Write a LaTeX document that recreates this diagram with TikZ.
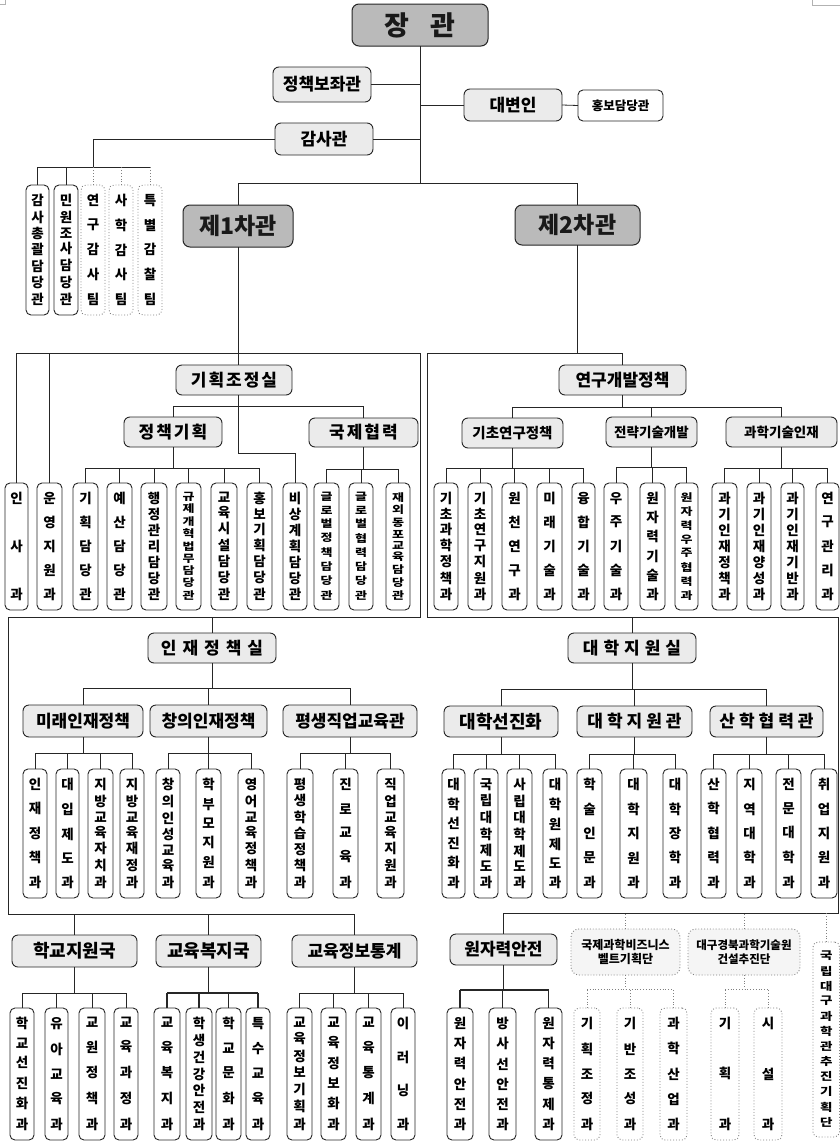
\documentclass[tikz,border=0pt]{standalone}
\usepackage{fontspec}
\setmainfont{Noto Sans CJK KR}
\usepackage{graphicx}
\newcommand\chfmt[1]{#1}
\newcommand\squish[1]{\scalebox{1}[0.8]{#1}}
\newcommand\vtxt[2]{\raisebox{1.5pt}{\vbox to #1{\offinterlineskip\foreach \c [count=\i] in {#2}{\ifnum\i>1 \vfill\fi\hbox to 0pt{\hss\chfmt{\c}\hss}}}}}
\newcommand\mybox[7]{%
  \pgfmathsetmacro\cx{(#2+#4)/2}\pgfmathsetmacro\cy{(#3+#5)/2}%
  \pgfmathsetmacro\bw{#4-#2}\pgfmathsetmacro\bh{#5-#3}%
  \node[#6,minimum width=\bw pt,minimum height=\bh pt] (#1) at (\cx,\cy) {#7};}
\newcommand\myleaf[7]{%
  \pgfmathsetmacro\vh{#5-#3-20}%
  \mybox{#1}{#2}{#3}{#4}{#5}{#6}{\vtxt{\vh pt}{#7}}}
\newcommand\mybus[4][ln]{%
  \coordinate (busy) at (0,#3);
  \draw[#1] (#2.south) -- (#2.south |- busy);
  \foreach \c [count=\i] in {#4}{%
    \draw[#1] (\c.north) -- (\c.north |- busy);
    \ifnum\i=1 \xdef\busfirst{\c}\fi
    \xdef\buslast{\c}}%
  \draw[#1] (\busfirst.north |- busy) -- (\buslast.north |- busy);}
\tikzset{
 ln/.style={line width=0.8pt, draw=black!85},
 dln/.style={line width=0.8pt, draw=black!50, dotted},
 topb/.style={draw=black!85, line width=1pt, rounded corners=7pt, fill=black!27, inner sep=0pt, outer sep=0pt, text=black!90, font=\bfseries\fontsize{23}{23}\selectfont},
 midb/.style={draw=black!85, line width=0.9pt, rounded corners=6pt, fill=black!8, inner sep=0pt, outer sep=0pt, font=\bfseries\fontsize{17}{17}\selectfont},
 leafb/.style={draw=black!85, line width=0.9pt, rounded corners=5pt, fill=white, inner sep=0pt, outer sep=0pt, font=\bfseries\fontsize{13.5}{13.5}\selectfont},
 leafs/.style={leafb, font=\bfseries\fontsize{13}{13}\selectfont, execute at begin node={\let\chfmt\squish}},
 dleafb/.style={leafb, draw=black!50, dotted},
 dmidb/.style={draw=black!50, line width=0.9pt, dotted, rounded corners=8pt, fill=black!4, inner sep=0pt, outer sep=0pt, align=center, font=\bfseries\fontsize{12}{14}\selectfont},
}
\begin{document}
\begin{tikzpicture}[x=1pt,y=-1pt]
\useasboundingbox (0,0) rectangle (840,1143);
\fill[white] (0,0) rectangle (840,1143);
% corner marks
\draw[black!30, line width=0.6pt] (0,4) -- (5,4) -- (5,0);
\draw[black!30, line width=0.6pt] (812,0) -- (812,5) -- (840,5);

% ---------- top ----------
\mybox{jg}{352}{4}{488}{46}{topb,font=\bfseries\fontsize{27}{27}\selectfont}{장\hspace{22pt}관}
\mybox{jb}{273}{67}{371}{102}{midb}{정책보좌관}
\mybox{dbi}{464}{89}{562}{121}{midb}{대변인}
\mybox{hb}{578}{90}{663}{121}{leafb,font=\bfseries\fontsize{12.5}{12.5}\selectfont}{홍보담당관}
\mybox{gsg}{275}{123}{373}{155}{midb}{감사관}
\mybox{v1}{183}{205}{293}{247}{topb}{제1차관}
\mybox{v2}{515}{205}{640}{245}{topb}{제2차관}

% audit
\myleaf{a1}{26}{185}{49}{315}{leafb}{감,사,총,괄,담,당,관}
\myleaf{a2}{54}{185}{78}{315}{leafb}{민,원,조,사,담,당,관}
\myleaf{a3}{81}{185}{105}{315}{dleafb}{연,구,감,사,팀}
\myleaf{a4}{109}{185}{133}{315}{dleafb}{사,학,감,사,팀}
\myleaf{a5}{138}{185}{162}{315}{dleafb}{특,별,감,찰,팀}

% ---------- row 1 mid ----------
\mybox{gj}{176}{365}{292}{395}{midb}{기\hspace{2pt}획\hspace{2pt}조\hspace{2pt}정\hspace{2pt}실}
\mybox{jc}{124}{417}{222}{447}{midb}{정\hspace{2pt}책\hspace{2pt}기\hspace{2pt}획}
\mybox{gh}{309}{418}{418}{447}{midb}{국\hspace{2pt}제\hspace{2pt}협\hspace{2pt}력}
\mybox{yg}{559}{365}{686}{395}{midb}{연구개발정책}
\mybox{gc}{462}{418}{563}{448}{midb,font=\bfseries\fontsize{14.5}{14.5}\selectfont}{기초연구정책}
\mybox{jd}{606}{417}{697}{447}{midb,font=\bfseries\fontsize{13.5}{13.5}\selectfont}{전략기술개발}
\mybox{gi}{726}{417}{837}{447}{midb,font=\bfseries\fontsize{13.5}{13.5}\selectfont}{과학기술인재}

% ---------- row 1 leaves ----------
\myleaf{insa}{5}{483}{28}{610}{leafb}{인,사,과}
\myleaf{uy}{37}{483}{62}{610}{leafb}{운,영,지,원,과}
\myleaf{l3}{73}{483}{98}{610}{leafb}{기,획,담,당,관}
\myleaf{l4}{107}{483}{132}{610}{leafb}{예,산,담,당,관}
\myleaf{l5}{141}{483}{167}{610}{leafb}{행,정,관,리,담,당,관}
\myleaf{l6}{176}{483}{201}{610}{leafs}{규,제,개,혁,법,무,담,당,관}
\myleaf{l7}{211}{483}{237}{610}{leafb}{교,육,시,설,담,당,관}
\myleaf{l8}{247}{483}{272}{610}{leafb}{홍,보,기,획,담,당,관}
\myleaf{bs}{283}{483}{307}{610}{leafb}{비,상,계,획,담,당,관}
\myleaf{l10}{314}{483}{339}{610}{leafs}{글,로,벌,정,책,담,당,관}
\myleaf{l11}{349}{483}{373}{610}{leafs}{글,로,벌,협,력,담,당,관}
\myleaf{l12}{386}{483}{410}{610}{leafs}{재,외,동,포,교,육,담,당,관}

\myleaf{r1}{434}{483}{458}{610}{leafb}{기,초,과,학,정,책,과}
\myleaf{r2}{468}{483}{492}{610}{leafb}{기,초,연,구,지,원,과}
\myleaf{r3}{502}{483}{527}{610}{leafb}{원,천,연,구,과}
\myleaf{r4}{537}{483}{562}{610}{leafb}{미,래,기,술,과}
\myleaf{r5}{572}{483}{595}{610}{leafb}{융,합,기,술,과}
\myleaf{r6}{604}{483}{628}{610}{leafb}{우,주,기,술,과}
\myleaf{r7}{640}{483}{665}{610}{leafb}{원,자,력,기,술,과}
\myleaf{r8}{675}{483}{698}{610}{leafs}{원,자,력,우,주,협,력,과}
\myleaf{r9}{712}{483}{737}{610}{leafb}{과,기,인,재,정,책,과}
\myleaf{r10}{747}{483}{771}{610}{leafb}{과,기,인,재,양,성,과}
\myleaf{r11}{781}{483}{804}{610}{leafb}{과,기,인,재,기,반,과}
\myleaf{r12}{816}{483}{839}{610}{leafb}{연,구,관,리,과}

% ---------- row 2 mid ----------
\mybox{ij}{148}{633}{276}{663}{midb}{인\hspace{6pt}재\hspace{6pt}정\hspace{6pt}책\hspace{6pt}실}
\mybox{mr}{23}{705}{143}{737}{midb}{미래인재정책}
\mybox{cu}{150}{705}{267}{737}{midb}{창의인재정책}
\mybox{pj}{283}{705}{417}{737}{midb}{평생직업교육관}
\mybox{dj}{568}{633}{696}{663}{midb}{대\hspace{5pt}학\hspace{5pt}지\hspace{5pt}원\hspace{5pt}실}
\mybox{ds}{444}{706}{558}{737}{midb,font=\bfseries\fontsize{18}{18}\selectfont}{대학선진화}
\mybox{dg}{577}{706}{692}{737}{midb}{대\hspace{4pt}학\hspace{4pt}지\hspace{4pt}원\hspace{4pt}관}
\mybox{sh}{710}{706}{823}{737}{midb}{산\hspace{4pt}학\hspace{4pt}협\hspace{4pt}력\hspace{4pt}관}

% ---------- row 2 leaves ----------
\myleaf{m1}{23}{769}{47}{898}{leafb}{인,재,정,책,과}
\myleaf{m2}{56}{769}{79}{898}{leafb}{대,입,제,도,과}
\myleaf{m3}{88}{769}{113}{898}{leafb}{지,방,교,육,자,치,과}
\myleaf{m4}{120}{769}{144}{898}{leafb}{지,방,교,육,재,정,과}
\myleaf{c1}{156}{769}{180}{898}{leafb}{창,의,인,성,교,육,과}
\myleaf{c2}{196}{769}{221}{898}{leafb}{학,부,모,지,원,과}
\myleaf{c3}{238}{769}{264}{898}{leafb}{영,어,교,육,정,책,과}
\myleaf{p1}{287}{769}{313}{898}{leafb}{평,생,학,습,정,책,과}
\myleaf{p2}{333}{769}{358}{898}{leafb}{진,로,교,육,과}
\myleaf{p3}{377}{769}{404}{898}{leafb}{직,업,교,육,지,원,과}

\myleaf{d1}{442}{769}{465}{898}{leafb}{대,학,선,진,화,과}
\myleaf{d2}{474}{769}{498}{898}{leafb}{국,립,대,학,제,도,과}
\myleaf{d3}{507}{769}{532}{898}{leafb}{사,립,대,학,제,도,과}
\myleaf{d4}{543}{769}{567}{898}{leafb}{대,학,원,제,도,과}
\myleaf{g1}{577}{769}{602}{898}{leafb}{학,술,인,문,과}
\myleaf{g2}{620}{769}{647}{898}{leafb}{대,학,지,원,과}
\myleaf{g3}{663}{769}{687}{898}{leafb}{대,학,장,학,과}
\myleaf{s1}{701}{769}{726}{898}{leafb}{산,학,협,력,과}
\myleaf{s2}{737}{769}{762}{898}{leafb}{지,역,대,학,과}
\myleaf{s3}{776}{769}{801}{898}{leafb}{전,문,대,학,과}
\myleaf{s4}{811}{769}{837}{898}{leafb}{취,업,지,원,과}

% ---------- row 3 mid ----------
\mybox{hj}{12}{935}{137}{967}{midb,font=\bfseries\fontsize{18}{18}\selectfont}{학교지원국}
\mybox{gb}{156}{935}{261}{967}{midb,font=\bfseries\fontsize{18}{18}\selectfont}{교육복지국}
\mybox{gt}{292}{935}{417}{967}{midb}{교육정보통계}
\mybox{wa}{450}{934}{557}{965}{midb}{원자력안전}
\mybox{gk}{571}{929}{680}{975}{dmidb}{국제과학비즈니스\\벨트기획단}
\mybox{dk}{688}{929}{800}{975}{dmidb,font=\bfseries\fontsize{11.5}{14}\selectfont}{대구경북과학기술원\\건설추진단}

% ---------- row 3 leaves ----------
\myleaf{h1}{10}{1008}{34}{1140}{leafb}{학,교,선,진,화,과}
\myleaf{h2}{45}{1008}{68}{1140}{leafb}{유,아,교,육,과}
\myleaf{h3}{79}{1008}{105}{1140}{leafb}{교,원,정,책,과}
\myleaf{h4}{114}{1008}{138}{1140}{leafb}{교,육,과,정,과}
\myleaf{b1}{154}{1008}{180}{1140}{leafb}{교,육,복,지,과}
\myleaf{b2}{186}{1008}{212}{1140}{leafb}{학,생,건,강,안,전,과}
\myleaf{b3}{216}{1008}{241}{1140}{leafb}{학,교,문,화,과}
\myleaf{b4}{246}{1008}{270}{1140}{leafb}{특,수,교,육,과}
\myleaf{t1}{287}{1008}{312}{1140}{leafb}{교,육,정,보,기,획,과}
\myleaf{t2}{321}{1008}{346}{1140}{leafb}{교,육,정,보,화,과}
\myleaf{t3}{356}{1008}{381}{1140}{leafb}{교,육,통,계,과}
\myleaf{t4}{391}{1008}{415}{1140}{leafb}{이,러,닝,과}

\myleaf{w1}{447}{1008}{473}{1140}{leafb}{원,자,력,안,전,과}
\myleaf{w2}{489}{1008}{516}{1140}{leafb}{방,사,선,안,전,과}
\myleaf{w3}{535}{1008}{562}{1140}{leafb}{원,자,력,통,제,과}
\myleaf{k1}{574}{1008}{600}{1140}{dleafb}{기,획,조,정,과}
\myleaf{k2}{617}{1008}{643}{1140}{dleafb}{기,반,조,성,과}
\myleaf{k3}{660}{1008}{687}{1140}{dleafb}{과,학,산,업,과}
\myleaf{e1}{711}{1008}{739}{1140}{dleafb}{기,획,과}
\myleaf{e2}{754}{1008}{782}{1140}{dleafb}{시,설,과}
\myleaf{gd}{813}{942}{839.5}{1137}{dleafb,font=\bfseries\fontsize{13.5}{13.5}\selectfont,execute at begin node={\let\chfmt\squish}}{국,립,대,구,과,학,관,추,진,기,획,단}

% ================= connectors =================
\coordinate (tb) at (0,183);
\draw[ln] (jg.south) -- (jg.south |- tb);
\draw[ln] (v1.north |- tb) -- (v2.north |- tb);
\draw[ln] (v1.north) -- (v1.north |- tb);
\draw[ln] (v2.north) -- (v2.north |- tb);
\draw[ln] (jb.east) -- (jb.east -| jg.south);
\draw[ln] (dbi.west) -- (dbi.west -| jg.south);
\draw[ln] (dbi.east) -- (hb.west);
\draw[ln] (gsg.east) -- (gsg.east -| jg.south);
% audit
\coordinate (ab) at (0,167);
\draw[ln] (gsg.west) -| (a3.north |- ab);
\draw[ln] (a1.north |- ab) -- (a5.north |- ab);
\draw[ln] (a1.north) -- (a1.north |- ab);
\draw[ln] (a2.north) -- (a2.north |- ab);
\draw[dln] (a3.north) -- (a3.north |- ab);
\draw[dln] (a4.north) -- (a4.north |- ab);
\draw[dln] (a5.north) -- (a5.north |- ab);

% left frame (1st vice minister)
\coordinate (L1) at (0,353);
\coordinate (fA) at (420,353);
\coordinate (fB) at (420,617);
\coordinate (fC) at (8,617);
\coordinate (fD) at (8,914);
\draw[ln] (v1.south) -- (v1.south |- gj.north);
\draw[ln] (insa.north) -- (insa.north |- L1) -- (fA) -- (fB) -- (fC) -- (fD) -- (gt.north |- fD) -- (gt.north);
\draw[ln] (uy.north) -- (uy.north |- L1);
\draw[ln] (ij.north) -- (ij.north |- fC);
\draw[ln] (hj.north) -- (hj.north |- fD);
\draw[ln, line width=1.3pt] (gb.north) -- (gb.north |- fD);

% planning office
\coordinate (gjm) at (0,406);
\coordinate (gjb) at (0,453);
\draw[ln] (v1.south |- gj.south) -- (v1.south |- gjb) -| (bs.north);
\draw[ln] (jc.north |- gjm) -- (gh.north |- gjm);
\draw[ln] (jc.north) -- (jc.north |- gjm);
\draw[ln] (gh.north) -- (gh.north |- gjm);
\mybus{jc}{468}{l3,l4,l5,l6,l7,l8}
\mybus{gh}{469}{l10,l11,l12}

% right frame (2nd vice minister)
\coordinate (R1) at (0,353);
\coordinate (fE) at (427,353);
\coordinate (fF) at (427,617);
\coordinate (fG) at (838,617);
\coordinate (fH) at (838,913);
\draw[ln] (v2.south) -- (v2.south |- R1);
\draw[ln] (yg.north) -- (yg.north |- R1) -- (fE) -- (fF) -- (fG) -- (fH) -- (wa.north |- fH) -- (wa.north);
\draw[ln] (dj.north) -- (dj.north |- fF);
\draw[dln] (gk.north) -- (gk.north |- fH);
\draw[dln] (dk.north) -- (dk.north |- fH);
\draw[dln] (gd.north) -- (gd.north |- fH);

\mybus{yg}{407}{gc,jd,gi}
\mybus{gc}{468}{r1,r2,r3,r4,r5}
\mybus{jd}{467}{r6,r7,r8}
\mybus{gi}{468}{r9,r10,r11,r12}

\mybus{ij}{688}{mr,cu,pj}
\mybus{mr}{753}{m1,m2,m3,m4}
\mybus{cu}{753}{c1,c2,c3}
\mybus{pj}{753}{p1,p2,p3}

\mybus{dj}{689}{ds,dg,sh}
\mybus{ds}{754}{d1,d2,d3,d4}
\mybus{dg}{754}{g1,g2,g3}
\mybus{sh}{754}{s1,s2,s3,s4}

\mybus{hj}{993}{h1,h2,h3,h4}
\mybus[ln,line width=1.3pt]{gb}{993}{b1,b2,b3,b4}
\mybus{gt}{993}{t1,t2,t3,t4}
\mybus[ln,line width=1.4pt]{wa}{990}{w1,w2,w3}
\mybus[dln]{gk}{989}{k1,k2,k3}
\mybus[dln]{dk}{989}{e1,e2}
\end{tikzpicture}
\end{document}
